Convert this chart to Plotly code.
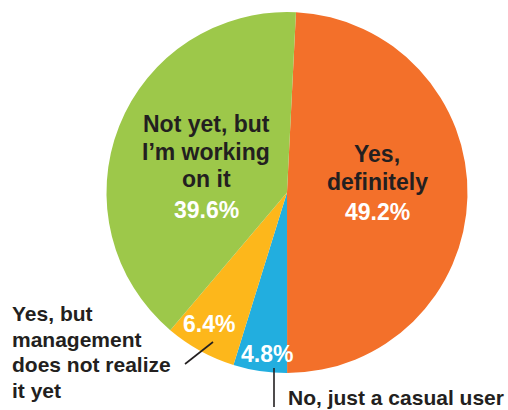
import plotly.graph_objects as go

# ---- data ----
categories = ["Yes, definitely", "No, just a casual user",
              "Yes, but management does not realize it yet",
              "Not yet, but I'm working on it"]
values = [49.2, 4.8, 6.4, 39.6]
pct_labels = ["49.2%", "4.8%", "6.4%", "39.6%"]
colors = ["#F3702A", "#22AEDF", "#FDB71B", "#9DC84A"]

W, H = 508, 410
DARK = "#231F20"
FONT = "Liberation Sans, Arial, sans-serif"

def px(x, y):
    return x / W, 1 - y / H

fig = go.Figure(go.Pie(
    labels=categories, values=values, sort=False, direction="clockwise",
    rotation=2.85, marker=dict(colors=colors, line=dict(width=0)),
    textinfo="none", hoverinfo="label+percent", showlegend=False,
    domain=dict(x=[106 / W, 468 / W], y=[(H - 373) / H, (H - 12) / H]),
))

annotations = []

def add_line(text, x, y, size, color, anchor="center"):
    ax, ay = px(x, y)
    annotations.append(dict(
        text="<b>%s</b>" % text, x=ax, y=ay, xref="paper", yref="paper",
        xanchor=anchor, yanchor="middle", showarrow=False,
        font=dict(family=FONT, size=size, color=color)))

# inside labels
add_line("Yes,", 377, 153.5, 23, DARK)
add_line("definitely", 377, 182.5, 23, DARK)
add_line(pct_labels[0], 377, 211.5, 23, "white")

add_line("Not yet, but", 206, 123.5, 23, DARK)
add_line("I\u2019m working", 206, 151.5, 23, DARK)
add_line("on it", 206, 179.5, 23, DARK)
add_line(pct_labels[3], 206, 209.5, 23, "white")

add_line(pct_labels[2], 208.5, 323.5, 23, "white")
add_line(pct_labels[1], 267, 353.5, 23, "white")

# outside labels
for t, y in zip(["Yes, but", "management", "does not realize", "it yet"],
                [313.5, 339.5, 364.5, 390]):
    add_line(t, 10, y, 21, DARK, anchor="left")
add_line("No, just a casual user", 286, 397.5, 21, DARK, anchor="left")

shapes = []
for (x0, y0, x1, y1) in [(185, 364, 213, 342), (274, 368, 274, 407)]:
    a0, b0 = px(x0, y0)
    a1, b1 = px(x1, y1)
    shapes.append(dict(type="line", xref="paper", yref="paper",
                       x0=a0, y0=b0, x1=a1, y1=b1,
                       line=dict(color=DARK, width=1.6)))

fig.update_layout(
    width=W, height=H, margin=dict(l=0, r=0, t=0, b=0),
    paper_bgcolor="white", plot_bgcolor="white",
    annotations=annotations, shapes=shapes,
)

fig.write_html("out.html", config={"displayModeBar": False})

# remove the default page margin so the figure sits at the window's corner
with open("out.html", "r", encoding="utf-8") as f:
    html = f.read()
html = html.replace("<head>", "<head><style>html,body{margin:0;padding:0;overflow:hidden;}</style>", 1)
with open("out.html", "w", encoding="utf-8") as f:
    f.write(html)
